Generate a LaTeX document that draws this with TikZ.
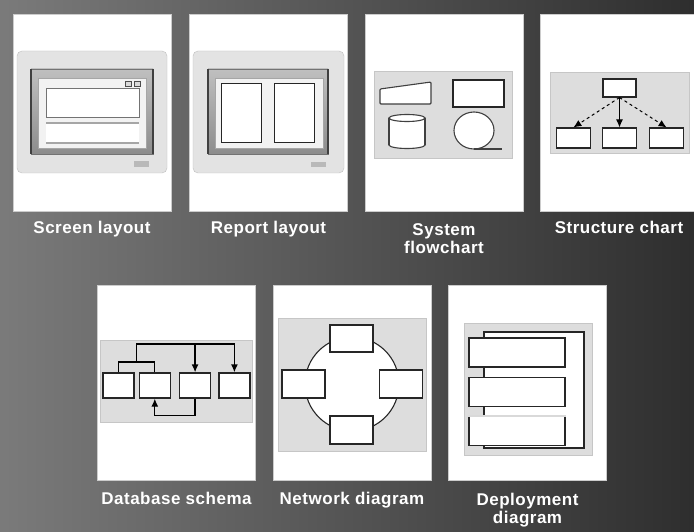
\documentclass[tikz,border=0pt]{standalone}
\usepackage{fontspec}
\usepackage{xcolor}
\usepackage{tikz}
\usetikzlibrary{shapes, arrows, arrows.meta, positioning, calc}
\newfontfamily\labelfont{Liberation Sans}[LetterSpace=3]
\tikzstyle{card} = [rectangle, draw=gray!40, fill=white, inner sep=0pt, minimum width=158pt, minimum height=197pt]
\tikzstyle{caption} = [text=white, font=\labelfont\bfseries\fontsize{17}{18}\selectfont, align=center, inner sep=0pt, anchor=north]
\tikzstyle{panel} = [draw=gray!45, fill=gray!27]
\tikzstyle{bezel} = [draw=gray!50, fill=gray!22, rounded corners=5pt]
\tikzstyle{monframe} = [top color=black!25, bottom color=black!45, draw=black!55]
\tikzstyle{screen} = [draw=gray!70, fill=gray!10]
\tikzstyle{box} = [rectangle, draw=black!85, fill=white, line width=1.3pt, inner sep=0pt]
\tikzstyle{tbl} = [box, minimum width=31pt, minimum height=25pt]
\tikzstyle{host} = [box, minimum width=43pt, minimum height=28pt]
\tikzstyle{tier} = [box, minimum width=96pt, minimum height=29pt]
\tikzstyle{link} = [draw, line width=1.3pt]
\tikzstyle{arrow} = [draw, -{Latex[length=8pt, width=7pt]}, line width=1.3pt]

\begin{document}
\begin{tikzpicture}[x=1pt, y=-1pt]
    \useasboundingbox (0,0) rectangle (694,532);
    \shade[left color=black!52, right color=black!82] (0,0) rectangle (694,532);

    % Cards
    \node (screencard) [card] at (92,112.5) {};
    \node (reportcard) [card] at (268.5,112.5) {};
    \node (flowcard) [card] at (444,112.5) {};
    \node (structcard) [card] at (619,112.5) {};
    \node (schemacard) [card, minimum height=195pt] at (176.5,382.5) {};
    \node (netcard) [card, minimum height=195pt] at (352,382.5) {};
    \node (deploycard) [card, minimum height=195pt] at (527.5,382.5) {};

    % Screen layout
    \draw[bezel] (17,51) rectangle (167,173);
    \shade[monframe] (31,69) rectangle (153,154);
    \draw[black!75, line width=1.2pt] (31,69) -- (31,154) (153,69) -- (153,154);
    \draw[screen] (38,78) rectangle (146,148);
    \draw[black!70, fill=gray!30] (125,81) rectangle (131,86) (134,81) rectangle (140,86);
    \draw[black!55, fill=white] (46,88) rectangle (139,117);
    \fill[white] (46,123) rectangle (139,143);
    \draw[gray!70, line width=1.5pt] (46,123) -- (139,123) (46,143) -- (139,143);
    \fill[gray!55] (134,161) rectangle (149,167);

    % Report layout
    \draw[bezel] (193,51) rectangle (344,173);
    \shade[monframe] (208,69) rectangle (328,154);
    \draw[black!75, line width=1.2pt] (208,69) -- (208,154) (328,69) -- (328,154);
    \draw[screen] (215,78) rectangle (323,148);
    \node (leftpane) [box, line width=1pt, minimum width=40pt, minimum height=59pt] at (241,113.5) {};
    \node (rightpane) [box, line width=1pt, minimum width=40pt, minimum height=59pt] at (294.5,113.5) {};
    \fill[gray!55] (311,162) rectangle (326,167);

    % System flowchart
    \draw[panel] (374,71) rectangle (512,158);
    \draw[black!75, line width=1.1pt, fill=white, rounded corners=1pt] (380,104) -- (380,89) -- (431,82) -- (431,104) -- cycle;
    \node (process) [box, line width=1.1pt, minimum width=51pt, minimum height=27pt] at (478.5,93.5) {};
    \draw[black!75, line width=1.1pt, fill=white] (407,145) ellipse (18 and 3.5);
    \fill[white] (389,118) rectangle (425,145);
    \draw[black!75, line width=1.1pt] (389,118) -- (389,145) (425,118) -- (425,145);
    \draw[black!75, line width=1.1pt, fill=white] (407,118) ellipse (18 and 3.5);
    \draw[black!75, line width=1.1pt, fill=white] (474,130.5) ellipse (20 and 18.5);
    \draw[black!75, line width=1.1pt] (474,149) -- (502,149);

    % Structure chart
    \draw[panel] (550,72) rectangle (689,153);
    \node (module) [box, line width=1.1pt, minimum width=33pt, minimum height=18pt] at (619.5,88) {};
    \node (submodB) [box, line width=1.1pt, minimum width=34pt, minimum height=20pt] at (619.5,138) {};
    \node (submodA) [box, line width=1.1pt, minimum width=34pt, minimum height=20pt, left=11pt of submodB] {};
    \node (submodC) [box, line width=1.1pt, minimum width=34pt, minimum height=20pt, right=12pt of submodB] {};
    \draw [arrow, line width=1pt, dashed] (module.south) -- (submodA.north);
    \draw [arrow, line width=1pt] (module.south) -- (submodB.north);
    \draw [arrow, line width=1pt, dashed] (module.south) -- (submodC.north);

    % Database schema
    \draw[panel] (100,340) rectangle (252,422);
    \node (tblA) [tbl] at (118.5,385.5) {};
    \node (tblB) [tbl, right=4pt of tblA] {};
    \node (tblC) [tbl, right=8pt of tblB] {};
    \node (tblD) [tbl, right=7pt of tblC] {};
    \coordinate (join) at (136.5,362);
    \coordinate (bus) at (136.5,344);
    \draw [link] (tblA.north) |- (join) -| (tblB.north);
    \draw [arrow] (join) -- (bus) -| (tblD.north);
    \draw [arrow] (bus -| tblC.north) -- (tblC.north);
    \draw [arrow] (tblC.south) -- ++(0,17) -| (tblB.south);

    % Network diagram
    \draw[panel] (278,318) rectangle (426,451);
    \node (ring) [circle, draw=black!85, line width=1.1pt, fill=white, minimum size=94pt, inner sep=0pt] at (352,384) {};
    \node (hostN) [host, minimum height=27pt] at (351.5,338.5) {};
    \node (hostW) [host] at (303.5,384) {};
    \node (hostE) [host] at (401,384) {};
    \node (hostS) [host] at (351.5,430) {};

    % Deployment diagram
    \draw[panel] (464,323) rectangle (592,455);
    \draw[black!85, line width=1.3pt, fill=white] (484,332) rectangle (584,448);
    \node (tierA) [tier] at (517,352.5) {};
    \node (tierB) [tier, below=9pt of tierA] {};
    \node (tierC) [tier, below=9pt of tierB] {};
    \draw[gray!30, line width=1.4pt] (tierC.north west) -- (tierC.north east);

    % Labels
    \node (screenlbl) [caption] at (92,221) {Screen layout};
    \node (reportlbl) [caption] at (268.5,221) {Report layout};
    \node (flowlbl) [caption] at (444,223.5) {System\\flowchart};
    \node (structlbl) [caption] at (619,221) {Structure chart};
    \node (schemalbl) [caption] at (176.5,492) {Database schema};
    \node (netlbl) [caption] at (352,492) {Network diagram};
    \node (deploylbl) [caption] at (527.5,492.5) {Deployment\\diagram};
\end{tikzpicture}
\end{document}
